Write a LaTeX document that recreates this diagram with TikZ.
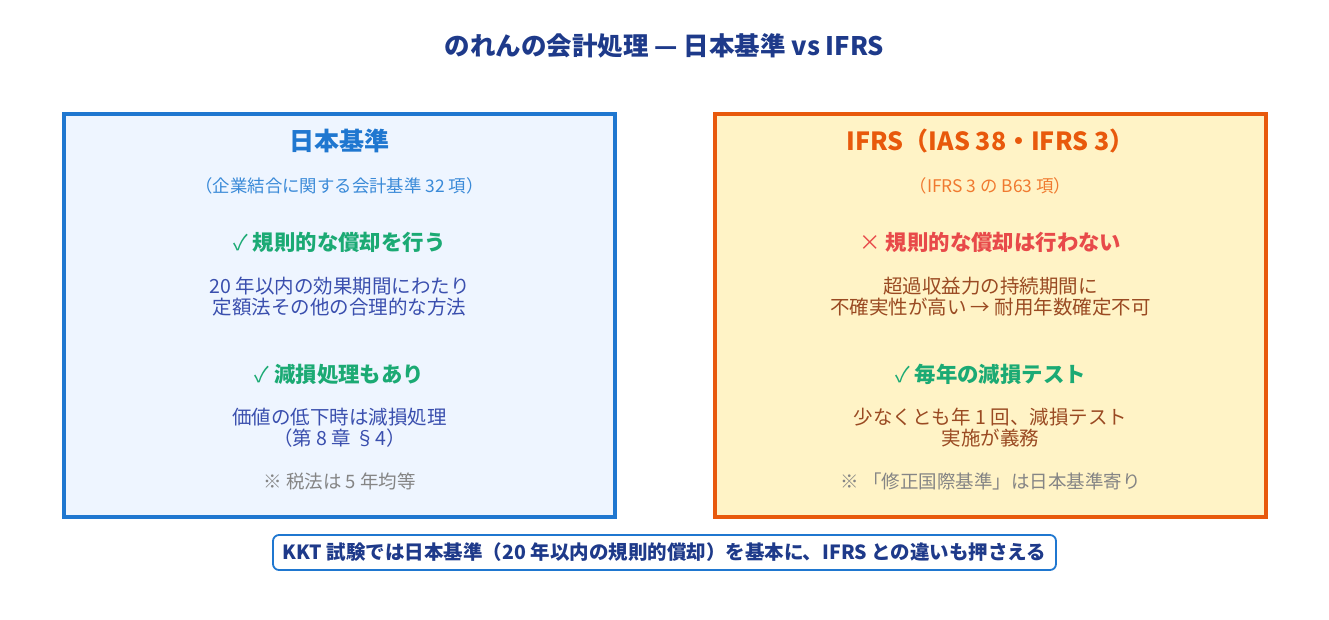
\documentclass[tikz,border=0pt]{standalone}
\usepackage{fontspec}
\setmainfont{Noto Sans CJK JP}
\usetikzlibrary{positioning}
\definecolor{navy}{HTML}{1E3A8A}
\definecolor{jblue}{HTML}{1F77D0}
\definecolor{jfill}{HTML}{EEF5FF}
\definecolor{jsub}{HTML}{3A8AD8}
\definecolor{jbody}{HTML}{3A4FAE}
\definecolor{iorange}{HTML}{E8590C}
\definecolor{ifill}{HTML}{FFF3C6}
\definecolor{isub}{HTML}{F07A30}
\definecolor{ibody}{HTML}{9A4A22}
\definecolor{okgreen}{HTML}{1BAA74}
\definecolor{ngred}{HTML}{E84A4A}
\definecolor{notegray}{HTML}{858585}
\newcommand{\ok}{{\mdseries ✓}}
\tikzset{
  panel/.style={draw, line width=3.5pt},
  head/.style={font=\bfseries\fontsize{25}{30}\selectfont},
  sub/.style={font=\fontsize{17.4}{20}\selectfont},
  item/.style={font=\bfseries\fontsize{21.4}{25}\selectfont},
  body/.style={font=\fontsize{19.5}{21}\selectfont, align=center},
  note/.style={font=\fontsize{18.5}{21}\selectfont, text=notegray},
}
\begin{document}
\begin{tikzpicture}[x=1pt, y=-1pt]
  \useasboundingbox (0,0) rectangle (1329,620);
  \node[font=\bfseries\fontsize{25.5}{30}\selectfont, text=navy] (title) at (664.5,46) {のれんの会計処理 — 日本基準 vs IFRS};

  % Japanese GAAP
  \draw[panel, draw=jblue, fill=jfill] (64,114) rectangle (615,517);
  \node[head, text=jblue] (jhead) at (339.5,141) {日本基準};
  \node[sub, text=jsub] (jsub) at (339.5,186) {（企業結合に関する会計基準 32 項）};
  \node[item, text=okgreen] (jitem1) at (339.5,242) {\ok{} 規則的な償却を行う};
  \node[body, text=jbody] (jbody1) at (339.5,297) {20 年以内の効果期間にわたり\\定額法その他の合理的な方法};
  \node[item, text=okgreen] (jitem2) at (339.5,374) {\ok{} 減損処理もあり};
  \node[body, text=jbody] (jbody2) at (339.5,428) {価値の低下時は減損処理\\（第 8 章 §4）};
  \node[note] (jnote) at (339.5,481) {※ 税法は 5 年均等};

  % IFRS
  \draw[panel, draw=iorange, fill=ifill] (715,114) rectangle (1266,517);
  \node[head, text=iorange] (ihead) at (990.5,141) {IFRS（IAS 38・IFRS 3）};
  \node[sub, text=isub] (isub) at (990.5,186) {（IFRS 3 の B63 項）};
  \node[item, text=ngred] (iitem1) at (990.5,242) {{\mdseries ×} 規則的な償却は行わない};
  \node[body, text=ibody] (ibody1) at (990.5,297) {超過収益力の持続期間に\\不確実性が高い → 耐用年数確定不可};
  \node[item, text=okgreen] (iitem2) at (990.5,374) {\ok{} 毎年の減損テスト};
  \node[body, text=ibody] (ibody2) at (990.5,428) {少なくとも年 1 回、減損テスト\\実施が義務};
  \node[note] (inote) at (990.5,481) {※ 「修正国際基準」は日本基準寄り};

  % summary
  \node[draw=jblue, line width=1.8pt, rounded corners=6pt, fill=white, text=navy,
        font=\bfseries\fontsize{19.5}{22}\selectfont, minimum width=783pt, minimum height=35pt]
        (summary) at (664.5,552.5) {KKT 試験では日本基準（20 年以内の規則的償却）を基本に、IFRS との違いも押さえる};
\end{tikzpicture}
\end{document}
